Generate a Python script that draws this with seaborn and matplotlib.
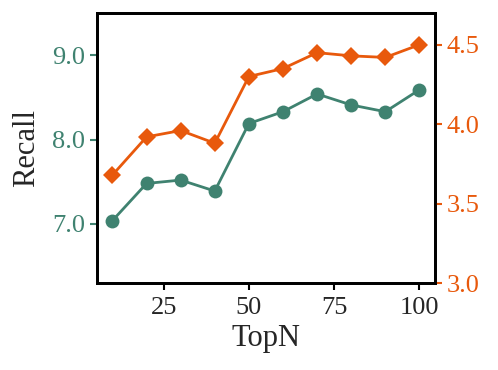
import matplotlib
matplotlib.use("Agg")
import matplotlib.pyplot as plt
import seaborn as sns

# data
topn = [10, 20, 30, 40, 50, 60, 70, 80, 90, 100]
recall_left = [7.04, 7.48, 7.52, 7.39, 8.19, 8.33, 8.54, 8.41, 8.33, 8.59]
recall_right = [3.68, 3.92, 3.96, 3.88, 4.30, 4.35, 4.45, 4.43, 4.42, 4.50]

green = "#3f8270"
orange = "#e8590c"

sns.set_style("white")
plt.rcParams["font.family"] = ["Liberation Serif", "DejaVu Serif"]

fig = plt.figure(figsize=(4.98, 3.70), dpi=100)
ax = fig.add_axes([0.195, 0.235, 0.678, 0.73])
ax2 = ax.twinx()

sns.lineplot(x=topn, y=recall_left, ax=ax, color=green, marker="o",
             markersize=10, markeredgewidth=0, linewidth=2)
sns.lineplot(x=topn, y=recall_right, ax=ax2, color=orange, marker="D",
             markersize=9, markeredgewidth=0, linewidth=2)

ax.set_xlim(5.5, 104.5)
ax.set_ylim(6.3, 9.5)
ax2.set_ylim(3.0, 4.7)
ax.set_xticks([25, 50, 75, 100])
ax.set_yticks([7.0, 8.0, 9.0])
ax.set_yticklabels(["7.0", "8.0", "9.0"])
ax2.set_yticks([3.0, 3.5, 4.0, 4.5])
ax2.set_yticklabels(["3.0", "3.5", "4.0", "4.5"])

ax.set_xlabel("TopN", fontsize=22, labelpad=4)
ax.set_ylabel("Recall", fontsize=22, labelpad=8)

ax.tick_params(axis="x", direction="out", length=5, width=1.5, labelsize=19,
               bottom=True, color="black", pad=5)
ax.tick_params(axis="y", direction="out", length=5, width=1.5, labelsize=19,
               left=True, colors=green)
ax2.tick_params(axis="y", direction="out", length=5, width=1.5, labelsize=19,
                right=True, colors=orange)

for a in (ax, ax2):
    for s in a.spines.values():
        s.set_color("black")
        s.set_linewidth(2)

fig.savefig("out.png", dpi=100)
